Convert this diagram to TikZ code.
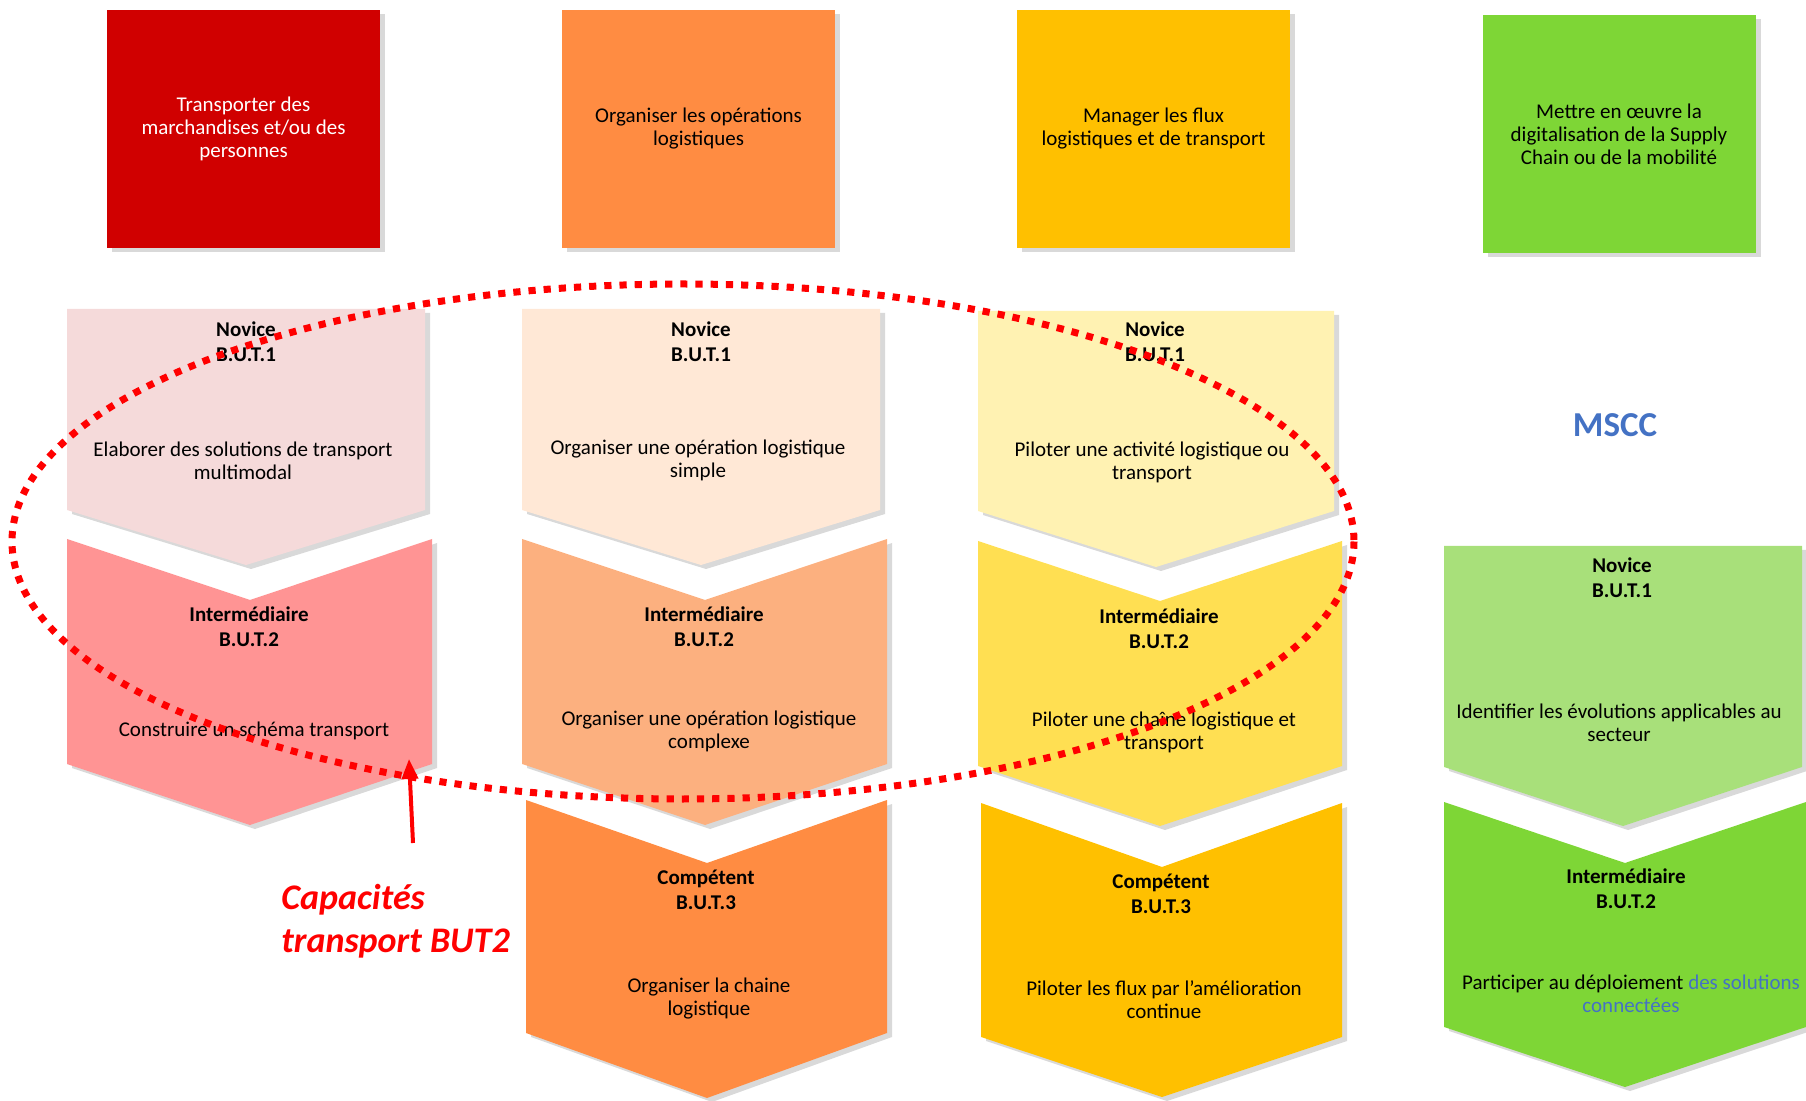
\documentclass[tikz,border=0pt]{standalone}
\usepackage{fontspec}
\setmainfont{Carlito}
\usetikzlibrary{shadows,arrows.meta}
\definecolor{redbox}{HTML}{D00000}
\definecolor{orangebox}{HTML}{FF8C42}
\definecolor{goldbox}{HTML}{FFC000}
\definecolor{greenbox}{HTML}{7ED636}
\definecolor{pinklight}{HTML}{F5DADA}
\definecolor{pinkmid}{HTML}{FF9494}
\definecolor{peachlight}{HTML}{FFE8D6}
\definecolor{peachmid}{HTML}{FCB07F}
\definecolor{yellowlight}{HTML}{FFF2B2}
\definecolor{yellowmid}{HTML}{FFDF52}
\definecolor{greenlight}{HTML}{A8E07A}
\definecolor{msccblue}{HTML}{4472C4}
\definecolor{loopred}{HTML}{FF0000}

\begin{document}
\begin{tikzpicture}[x=0.5pt,y=-0.5pt,
  tile/.style={drop shadow={shadow xshift=2.5pt,shadow yshift=-2pt,opacity=0.3}},
  topbox/.style={tile,minimum width=136.5pt,minimum height=119pt,inner sep=0pt,
    align=center,font=\fontsize{10.5}{11.5}\selectfont},
  head/.style={align=center,inner sep=0pt,font=\fontsize{10.5}{12.5}\selectfont\bfseries},
  body/.style={align=center,inner sep=0pt,font=\fontsize{10.5}{11.5}\selectfont}]
\useasboundingbox (0,0) rectangle (1806,1101);

% top row
\node[topbox,fill=redbox,text=white] (trans) at (243.5,129) {Transporter des\\marchandises et/ou des\\personnes};
\node[topbox,fill=orangebox] (orga) at (698.5,129) {Organiser les opérations\\logistiques};
\node[topbox,fill=goldbox] (mana) at (1153.5,129) {Manager les flux\\logistiques et de transport};
\node[topbox,fill=greenbox] (digi) at (1619,134) {Mettre en œuvre la\\digitalisation de la Supply\\Chain ou de la mobilité};

% column 1
\fill[tile,fill=pinklight](67,309)--(425,309)--(425,510)--(246,565)--(67,510)--cycle;
\fill[tile,fill=pinkmid](67,539)--(250,600)--(432,539)--(432,764)--(250,825)--(67,764)--cycle;
\node[head] (transnovh) at (246,341.5) {Novice\\B.U.T.1};
\node[body] (transnov) at (243,460.5) {Elaborer des solutions de transport\\multimodal};
\node[head] (transinth) at (249,627) {Intermédiaire\\B.U.T.2};
\node[body] (transint) at (254,731) {Construire un schéma transport};

% column 2
\fill[tile,fill=peachlight](522,309)--(880,309)--(880,510)--(701,565)--(522,510)--cycle;
\fill[tile,fill=peachmid](522,539)--(705,600)--(887,539)--(887,764)--(705,825)--(522,764)--cycle;
\fill[tile,fill=orangebox](526,800)--(707,863)--(887,800)--(887,1033)--(707,1098)--(526,1033)--cycle;
\node[head] (organovh) at (701,341.5) {Novice\\B.U.T.1};
\node[body] (organov) at (698,460.5) {Organiser une opération logistique\\simple};
\node[head] (orgainth) at (704,627) {Intermédiaire\\B.U.T.2};
\node[body] (orgaint) at (709,731) {Organiser une opération logistique\\complexe};
\node[head] (orgacomh) at (706,890) {Compétent\\B.U.T.3};
\node[body] (orgacom) at (709,999) {Organiser la chaine\\logistique};

% column 3
\fill[tile,fill=yellowlight](978,311)--(1334,311)--(1334,511)--(1156,567)--(978,511)--cycle;
\fill[tile,fill=yellowmid](978,541)--(1160,601)--(1342,541)--(1342,766)--(1160,826)--(978,766)--cycle;
\fill[tile,fill=goldbox](981,803)--(1162,867)--(1342,803)--(1342,1037)--(1162,1097)--(981,1037)--cycle;
\node[head] (mananovh) at (1155,341.5) {Novice\\B.U.T.1};
\node[body] (mananov) at (1152,462.5) {Piloter une activité logistique ou\\transport};
\node[head] (manainth) at (1159,628.5) {Intermédiaire\\B.U.T.2};
\node[body] (manaint) at (1164,732) {Piloter une chaîne logistique et\\transport};
\node[head] (manacomh) at (1161,893.5) {Compétent\\B.U.T.3};
\node[body] (manacom) at (1164,1000) {Piloter les flux par l’amélioration\\continue};

% column 4
\node[inner sep=0pt,text=msccblue,font=\fontsize{17.5}{20}\selectfont\bfseries] (mscc) at (1615,425) {MSCC};
\fill[tile,fill=greenlight](1444,546)--(1802,546)--(1802,767)--(1623,826)--(1444,767)--cycle;
\fill[tile,fill=greenbox](1444,802)--(1625,863)--(1806,802)--(1806,1027)--(1625,1087)--(1444,1027)--cycle;
\node[head] (diginovh) at (1622,577.5) {Novice\\B.U.T.1};
\node[body] (diginov) at (1619,722.5) {Identifier les évolutions applicables au\\secteur};
\node[head] (digiinth) at (1626,889) {Intermédiaire\\B.U.T.2};
\node[body] (digiint) at (1631,993.5) {Participer au déploiement \textcolor{msccblue}{des solutions}\\\textcolor{msccblue}{connectées}};

% BUT2 transport loop
\draw[loopred,line width=3.5pt,dash pattern=on 3.6pt off 4pt] (683,541.5) ellipse [x radius=671,y radius=257.5];
\node[anchor=west,align=left,inner sep=0pt,text=loopred,font=\fontsize{18}{21.5}\selectfont\bfseries\itshape] (capa) at (281,921.5) {Capacités\\transport BUT2};
\coordinate (tail) at (413,843);
\coordinate (tip) at (409,759);
\draw[loopred,line width=2pt,-{Triangle[length=10pt,width=8pt]}] (tail) -- (tip);
\end{tikzpicture}
\end{document}
